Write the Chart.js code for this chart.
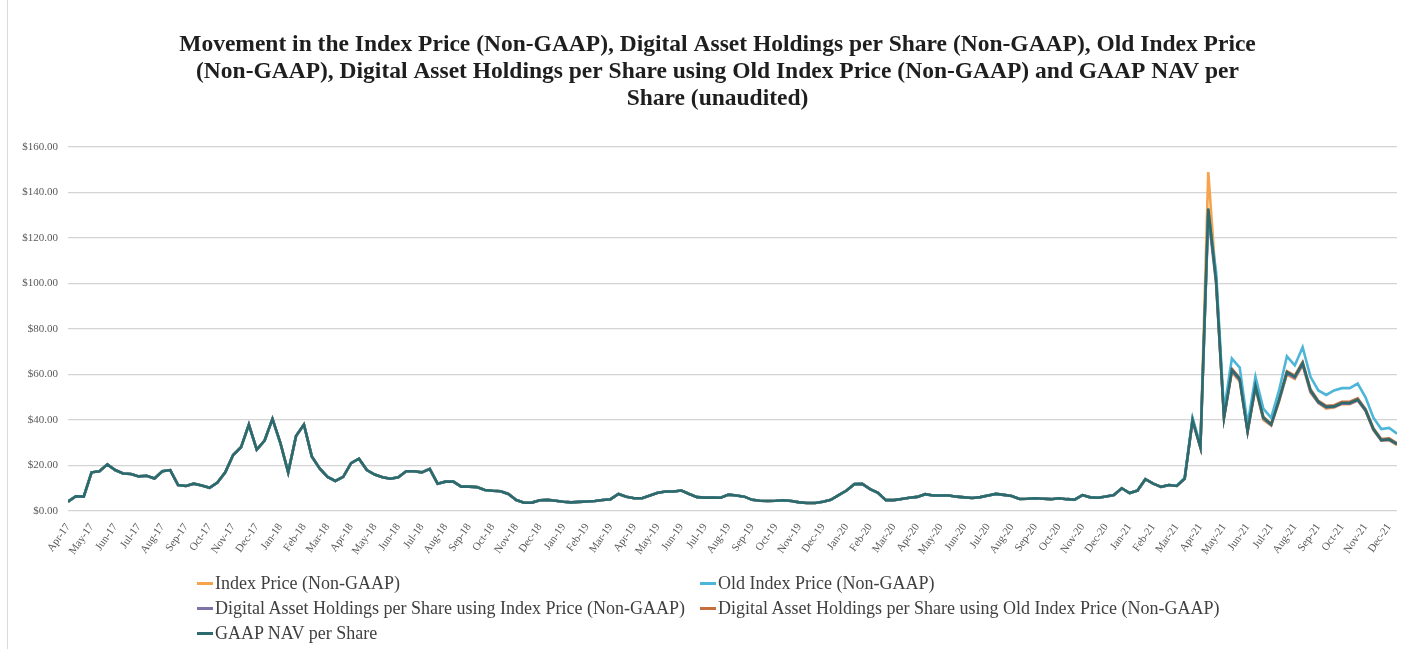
<!DOCTYPE html>
<html>
<head>
<meta charset="utf-8">
<script src="https://cdn.jsdelivr.net/npm/chart.js@4.4.0/dist/chart.umd.min.js"></script>
<style>
    html, body { margin: 0; padding: 0; background: #fff; }
    #wrap { position: relative; width: 1427px; height: 649px; overflow: hidden; }
    #frame { position: absolute; left: 7px; top: 0; height: 649px; border-left: 1px solid #d9d9d9; }
    #legend {
        position: absolute; left: 197px; top: 571px;
        display: grid; grid-template-columns: 503px auto;
        font-family: "Liberation Serif", "Times New Roman", serif; font-size: 18px; color: #404040;
    }
    .item { display: flex; align-items: center; height: 25px; white-space: nowrap; }
    .swatch { width: 16px; height: 3px; margin-right: 2px; }
</style>
</head>
<body>
<div id="wrap">
    <div id="frame"></div>
    <canvas id="chart"></canvas>
    <div id="legend"></div>
</div>
<script>
// --- Data (3 readings per month, starting Apr-17) ---
const STEPS_PER_MONTH = 3;

const monthLabels = [
    'Apr-17', 'May-17', 'Jun-17', 'Jul-17', 'Aug-17', 'Sep-17', 'Oct-17', 'Nov-17', 'Dec-17',
    'Jan-18', 'Feb-18', 'Mar-18', 'Apr-18', 'May-18', 'Jun-18', 'Jul-18', 'Aug-18', 'Sep-18', 'Oct-18', 'Nov-18', 'Dec-18',
    'Jan-19', 'Feb-19', 'Mar-19', 'Apr-19', 'May-19', 'Jun-19', 'Jul-19', 'Aug-19', 'Sep-19', 'Oct-19', 'Nov-19', 'Dec-19',
    'Jan-20', 'Feb-20', 'Mar-20', 'Apr-20', 'May-20', 'Jun-20', 'Jul-20', 'Aug-20', 'Sep-20', 'Oct-20', 'Nov-20', 'Dec-20',
    'Jan-21', 'Feb-21', 'Mar-21', 'Apr-21', 'May-21', 'Jun-21', 'Jul-21', 'Aug-21', 'Sep-21', 'Oct-21', 'Nov-21', 'Dec-21'
];

const yTicks = [0, 20, 40, 60, 80, 100, 120, 140, 160];

// Apr-17 .. early Feb-21: all five series sit on top of each other
const sharedHistory = [
    4.1, 6.5, 6.3, 17, 17.5, 20.5, 18, 16.5, 16.3, 15.2, 15.5, 14.3, 17.5, 18, 11.4, 11, 12, 11.2, 10.2, 12.5,
    17, 24.6, 28, 38, 27, 31, 40.5, 30, 17, 33, 38, 24, 18.7, 15, 13.2, 15, 21, 23, 18, 16,
    14.8, 14.2, 14.8, 17.5, 17.5, 17, 18.5, 12, 12.9, 12.9, 10.7, 10.7, 10.5, 9.2, 8.9, 8.7, 7.5, 4.8, 3.6, 3.7,
    4.7, 4.9, 4.5, 4.1, 3.8, 4, 4.2, 4.4, 4.8, 5.2, 7.5, 6.3, 5.6, 5.6, 6.8, 8, 8.6, 8.6, 9, 7.5,
    6.1, 5.9, 5.9, 5.8, 7.2, 6.8, 6.3, 4.9, 4.5, 4.4, 4.5, 4.7, 4.4, 3.8, 3.5, 3.5, 4.1, 4.9, 7, 9,
    11.8, 11.9, 9.6, 8, 4.8, 4.8, 5.3, 5.8, 6.2, 7.4, 6.8, 6.8, 6.8, 6.3, 6, 5.7, 6.1, 6.8, 7.5, 7.1,
    6.6, 5.3, 5.4, 5.6, 5.4, 5.2, 5.6, 5.2, 5, 7, 6, 5.8, 6.4, 7, 10, 7.9, 9, 14, 12, 10.6,
    11.4
];

// Feb-21 .. Dec-21: the series separate
const indexPriceLate   = [11, 14.2, 40, 28, 149, 100, 41, 61, 57, 35, 54, 40, 37.5, 48, 60, 58, 64, 52, 47.5, 45, 45.5, 47, 47, 48.5, 44, 35.5, 31, 31, 29];
const oldIndexLate     = [11.2, 14.5, 41, 29, 131, 105, 44, 67, 63, 38, 59, 45, 41, 53, 68, 64, 72, 59, 53, 51, 53, 54, 54, 56, 50, 41, 36, 36.5, 34];
const dahIndexLate     = [11, 14.1, 39.5, 27.8, 130, 100, 41, 61.5, 57.5, 34.8, 54.5, 40.6, 37.8, 48.5, 60.5, 58.5, 64.5, 52.5, 47.6, 45.5, 45.7, 47.2, 47.2, 48.7, 44.1, 35.8, 31, 31.3, 29.3];
const dahOldIndexLate  = [11.1, 14.3, 40.2, 28.2, 132, 102, 41.5, 62.5, 58.5, 35.3, 55.5, 41.5, 38.3, 49.3, 61.5, 59.5, 65.5, 53.5, 48.4, 46.2, 46.5, 48, 48, 49.5, 44.8, 36.4, 31.6, 31.9, 29.8];
const gaapNavLate      = [11, 14.2, 40, 28, 133, 101, 41, 62, 58, 35, 55, 41, 38, 48.8, 61, 59, 65, 53, 48, 45.8, 46, 47.5, 47.5, 49, 44.4, 36, 31.2, 31.5, 29.5];

const seriesNames = [
    'Index Price (Non-GAAP)',
    'Old Index Price (Non-GAAP)',
    'Digital Asset Holdings per Share using Index Price (Non-GAAP)',
    'Digital Asset Holdings per Share using Old Index Price (Non-GAAP)',
    'GAAP NAV per Share'
];
const seriesColors = ['#f5a34c', '#4db6d8', '#7e72a8', '#c46f3e', '#2c6a6d'];
const drawOrder = [4, 1, 3, 2, 0]; // lower = drawn on top

const seriesValues = [
    sharedHistory.concat(indexPriceLate),
    sharedHistory.concat(oldIndexLate),
    sharedHistory.concat(dahIndexLate),
    sharedHistory.concat(dahOldIndexLate),
    sharedHistory.concat(gaapNavLate)
];

const toPoints = vals => vals.map((v, i) => ({ x: i / STEPS_PER_MONTH, y: v }));
const lastX = (seriesValues[0].length - 1) / STEPS_PER_MONTH;

const serif = '"Liberation Serif", "Times New Roman", serif';

const chart = new Chart(document.getElementById('chart'), {
    type: 'line',
    data: {
        datasets: seriesNames.map((name, k) => ({
            label: name,
            data: toPoints(seriesValues[k]),
            borderColor: seriesColors[k],
            backgroundColor: seriesColors[k],
            borderWidth: 2.6,
            pointRadius: 0,
            tension: 0,
            order: drawOrder[k]
        }))
    },
    options: {
        responsive: true,
        maintainAspectRatio: false,
        animation: false,
        layout: { padding: { left: 8, right: 0, top: 0, bottom: 88 } },
        plugins: {
            legend: { display: false },
            tooltip: { enabled: false },
            title: {
                display: true,
                text: [
                    'Movement in the Index Price (Non-GAAP), Digital Asset Holdings per Share (Non-GAAP), Old Index Price',
                    '(Non-GAAP), Digital Asset Holdings per Share using Old Index Price (Non-GAAP) and GAAP NAV per',
                    'Share (unaudited)'
                ],
                color: '#1e1e1e',
                font: { family: serif, size: 23.5, weight: 'bold', lineHeight: '27px' },
                padding: { top: 31, bottom: 35 }
            }
        },
        scales: {
            x: {
                type: 'linear',
                min: 0,
                max: lastX,
                afterBuildTicks: scale => {
                    scale.ticks = monthLabels.map((_, i) => ({ value: i }));
                },
                afterFit: scale => { scale.height = 50; },
                grid: { display: false },
                border: { display: false },
                ticks: {
                    autoSkip: false,
                    minRotation: 55,
                    maxRotation: 55,
                    padding: 2,
                    color: '#595959',
                    font: { family: serif, size: 11 },
                    callback: v => monthLabels[v]
                }
            },
            y: {
                min: 0,
                max: 160,
                afterBuildTicks: scale => {
                    scale.ticks = yTicks.map(v => ({ value: v }));
                },
                afterFit: scale => { scale.width = 60; },
                grid: { color: '#d4d4d4', lineWidth: 1.2, drawTicks: false },
                border: { display: false },
                ticks: {
                    padding: 10,
                    color: '#595959',
                    font: { family: serif, size: 11 },
                    callback: v => '$' + v.toFixed(2)
                }
            },
            // empty right-hand gutter so the title centres where the source has it
            gutter: {
                position: 'right',
                afterFit: scale => { scale.width = 30; },
                grid: { display: false, drawOnChartArea: false },
                border: { display: false },
                ticks: { display: false }
            }
        }
    }
});

// --- HTML legend, two columns like the source ---
const legendBox = document.getElementById('legend');
seriesNames.forEach((name, k) => {
    const item = document.createElement('div');
    item.className = 'item';
    const sw = document.createElement('span');
    sw.className = 'swatch';
    sw.style.background = seriesColors[k];
    const label = document.createElement('span');
    label.textContent = name;
    item.appendChild(sw);
    item.appendChild(label);
    legendBox.appendChild(item);
});
</script>
</body>
</html>
